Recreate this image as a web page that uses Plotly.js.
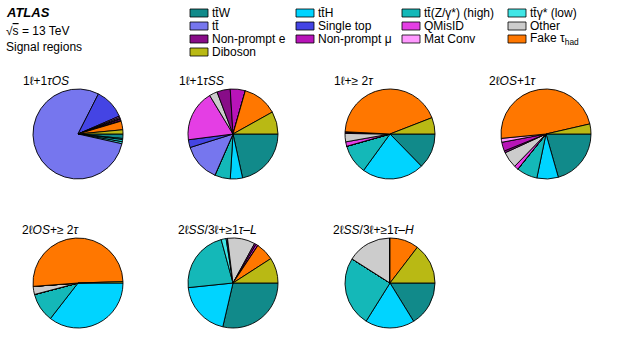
<!DOCTYPE html>
<html>
<head>
<meta charset="utf-8">
<script src="https://cdn.plot.ly/plotly-3.0.1.min.js"></script>
<style>
  html, body { margin: 0; padding: 0; background: #fff; }
  #myDiv { width: 623px; height: 358px; }
</style>
</head>
<body>
<div id="myDiv"></div>
<script>
// Background categories, in the order they are stacked clockwise from 3 o'clock
const categories = [
  'tt̄W', 'tt̄H', 'tt̄(Z/γ*) (high)', 'tt̄γ* (low)',
  'tt̄', 'Single top', 'QMisID', 'Other',
  'Non-prompt e', 'Non-prompt μ', 'Mat Conv', 'Fake τ<sub>had</sub>',
  'Diboson'
];
const colors = [
  '#118a8a', '#00d4ff', '#14b8b8', '#40e6e6',
  '#7676ee', '#4444e4', '#e43ee4', '#cccccc',
  '#880c88', '#b814b8', '#ff99ff', '#ff7700',
  '#b9b914'
];

// Signal region names
const regions = [
  '1ℓ+1<i>τOS</i>', '1ℓ+1<i>τSS</i>', '1ℓ+≥ 2<i>τ</i>', '2ℓ<i>OS</i>+1<i>τ</i>',
  '2ℓ<i>OS</i>+≥ 2<i>τ</i>', '2ℓ<i>SS</i>/3ℓ+≥1<i>τ–L</i>', '2ℓ<i>SS</i>/3ℓ+≥1<i>τ–H</i>'
];

// Fractions (%) per region, same order as categories
const sr1l1tauOS  = [1.6, 0.4, 0.8, 0.7, 79.0, 11.0, 0.5, 0.4, 0.3, 0.5, 0.2, 3.1, 1.5];
const sr1l1tauSS  = [21.6, 4.4, 5.6, 0, 13.6, 2.8, 18.4, 2.9, 4.8, 5.4, 0, 12.5, 8.1];
const sr1l2tau    = [12.7, 22.3, 10.6, 0, 0, 0, 1.6, 3.0, 0.6, 0, 0, 43.3, 5.9];
const sr2lOS1tau  = [20.6, 7.7, 7.5, 0, 0, 0, 1.5, 5.9, 0.7, 3.2, 1.4, 48.0, 3.6];
const sr2lOS2tau  = [0, 35.5, 10.4, 0, 0, 0, 0, 2.9, 0, 0, 0, 50.7, 0.5];
const sr2lSS1tauL = [28.9, 19.9, 22.6, 1.8, 0.5, 0, 0, 10.0, 0.6, 0.8, 0, 6.6, 9.2];
const sr2lSS1tauH = [16.2, 17.7, 25.1, 0, 0, 0, 0, 16.0, 0, 0, 0, 10.4, 14.6];

const regionValues = [sr1l1tauOS, sr1l1tauSS, sr1l2tau, sr2lOS1tau, sr2lOS2tau, sr2lSS1tauL, sr2lSS1tauH];

// layout helpers (pixels)
const W = 623, H = 358;
const centers = [[78, 134], [233, 134], [390, 134], [546, 134], [78, 283], [233, 283], [390, 283]];
const titlePos = [[21, 81], [177, 81], [332, 81], [487, 81], [20, 230], [176, 230], [331, 230]];
const R = 45;

const data = regionValues.map((vals, i) => {
  const [cx, cy] = centers[i];
  return {
    type: 'pie',
    labels: categories,
    values: vals,
    sort: false,
    direction: 'clockwise',
    rotation: 90,
    textinfo: 'none',
    hoverinfo: 'label+percent',
    marker: { colors: colors, line: { color: '#000', width: 0.9 } },
    domain: {
      x: [(cx - R) / W, (cx + R) / W],
      y: [(H - cy - R) / H, (H - cy + R) / H]
    },
    showlegend: false
  };
});

const font = { family: 'Liberation Sans, Arial, sans-serif', size: 12, color: '#000' };
const annotations = [];
const shapes = [];

function txt(text, x, y, extra) {
  annotations.push(Object.assign({
    text: text, xref: 'paper', yref: 'paper',
    x: x / W, y: 1 - y / H, xanchor: 'left', yanchor: 'middle',
    showarrow: false, font: font
  }, extra || {}));
}

txt('<b><i>ATLAS</i></b>', 4, 13, { font: Object.assign({}, font, { size: 13 }) });
txt('√<span style="text-decoration:overline">s</span> = 13 TeV', 4, 31);
txt('Signal regions', 4, 47);

regions.forEach((r, i) => txt(r, titlePos[i][0], titlePos[i][1]));

// hand-made legend, 4 columns
const colX = [190, 296, 402, 508];
const rowY = [13, 26, 39, 52];
categories.forEach((c, i) => {
  const x = colX[i % 4], y = rowY[Math.floor(i / 4)];
  shapes.push({
    type: 'rect', xref: 'paper', yref: 'paper',
    x0: x / W, x1: (x + 18) / W, y0: 1 - (y + 4) / H, y1: 1 - (y - 4) / H,
    fillcolor: colors[i], line: { color: '#000', width: 0.8 }
  });
  txt(c, x + 20, y);
});

const layout = {
  width: W, height: H,
  margin: { l: 0, r: 0, t: 0, b: 0 },
  paper_bgcolor: '#fff',
  font: font,
  annotations: annotations,
  shapes: shapes,
  showlegend: false
};

Plotly.newPlot('myDiv', data, layout, { staticPlot: true });
</script>
</body>
</html>
